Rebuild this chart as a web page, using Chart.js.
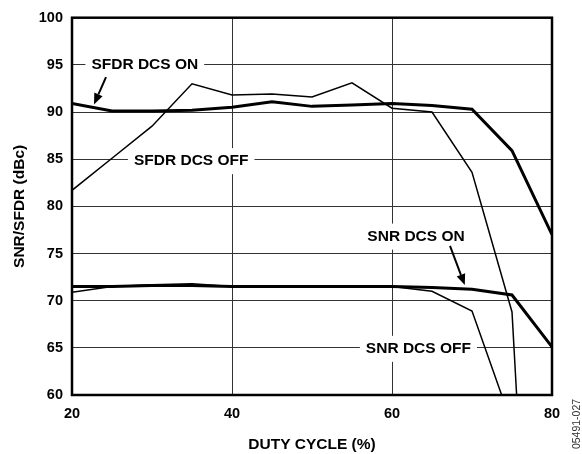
<!DOCTYPE html>
<html>
<head>
<meta charset="utf-8">
<script src="https://cdn.jsdelivr.net/npm/chart.js@4.4.1/dist/chart.umd.min.js"></script>
<style>
  html, body { margin: 0; padding: 0; background: #fff; }
  canvas { display: block; }
</style>
</head>
<body>
<canvas id="dcsChart" width="582" height="454"></canvas>
<script>
// values (duty cycle %, dBc)
var dutyCycle = [20, 25, 30, 35, 40, 45, 50, 55, 60, 65, 70, 75, 80];
var sfdrDcsOn = [90.9, 90.1, 90.1, 90.2, 90.5, 91.1, 90.6, 90.75, 90.9, 90.7, 90.3, 85.9, 77.0];
var sfdrOffDuty = [20, 25, 30, 35, 40, 45, 50, 55, 60, 65, 70, 75, 76];
var sfdrDcsOff = [81.7, 85.1, 88.5, 93.0, 91.8, 91.9, 91.6, 93.1, 90.4, 90.0, 83.6, 68.8, 53.6];
var snrDcsOn = [71.5, 71.5, 71.6, 71.6, 71.5, 71.5, 71.5, 71.5, 71.5, 71.4, 71.2, 70.6, 65.1];
var snrDcsOff = [70.9, 71.5, 71.7, 71.8, 71.5, 71.5, 71.5, 71.5, 71.5, 71.0, 68.9, 56.9, null];
var xTicks = [20, 40, 60, 80];
var yTicks = [60, 65, 70, 75, 80, 85, 90, 95, 100];

var FONT = '"Liberation Sans", Arial, Helvetica, sans-serif';

function pts(xs, ys) {
    return xs.map(function (x, i) { return { x: x, y: ys[i] }; });
}

// text labels with white boxes + the two arrows
var labelsPlugin = {
    id: 'curveLabels',
    beforeDatasetsDraw: function (chart) {
        var ctx = chart.ctx, xs = chart.scales.x, ys = chart.scales.y;
        var labels = [
            { text: 'SFDR DCS ON', x: 29.1, y: 95.1 },
            { text: 'SFDR DCS OFF', x: 34.9, y: 84.9 },
            { text: 'SNR DCS ON', x: 63.0, y: 76.9 },
            { text: 'SNR DCS OFF', x: 63.3, y: 65.0 }
        ];
        ctx.save();
        ctx.font = 'bold 15.5px ' + FONT;
        ctx.textAlign = 'center';
        ctx.textBaseline = 'middle';
        labels.forEach(function (l) {
            var px = xs.getPixelForValue(l.x), py = ys.getPixelForValue(l.y);
            var w = ctx.measureText(l.text).width;
            ctx.fillStyle = '#fff';
            ctx.fillRect(px - w / 2 - 6, py - 12, w + 12, 26);
            ctx.fillStyle = '#000';
            ctx.fillText(l.text, px, py + 1);
        });
        ctx.restore();
    },
    afterDraw: function (chart) {
        var ctx = chart.ctx, xs = chart.scales.x, ys = chart.scales.y, a = chart.chartArea;
        // frame
        ctx.save();
        ctx.strokeStyle = '#000';
        ctx.lineWidth = 2.5;
        ctx.strokeRect(a.left, a.top, a.right - a.left, a.bottom - a.top);

        var arrows = [
            { x0: 24.25, y0: 93.7, x1: 22.75, y1: 90.8 },
            { x0: 67.25, y0: 75.8, x1: 69.1, y1: 71.65 }
        ];
        arrows.forEach(function (ar) {
            var x0 = xs.getPixelForValue(ar.x0), y0 = ys.getPixelForValue(ar.y0);
            var x1 = xs.getPixelForValue(ar.x1), y1 = ys.getPixelForValue(ar.y1);
            var ang = Math.atan2(y1 - y0, x1 - x0), hl = 11, hw = 4.5;
            var bx = x1 - hl * Math.cos(ang), by = y1 - hl * Math.sin(ang);
            ctx.lineWidth = 2;
            ctx.beginPath();
            ctx.moveTo(x0, y0);
            ctx.lineTo(bx, by);
            ctx.stroke();
            ctx.beginPath();
            ctx.moveTo(x1, y1);
            ctx.lineTo(bx + hw * Math.sin(ang), by - hw * Math.cos(ang));
            ctx.lineTo(bx - hw * Math.sin(ang), by + hw * Math.cos(ang));
            ctx.closePath();
            ctx.fillStyle = '#000';
            ctx.fill();
        });

        // figure number on the right edge
        ctx.translate(577, 424);
        ctx.rotate(-Math.PI / 2);
        ctx.font = '10.5px ' + FONT;
        ctx.fillStyle = '#333';
        ctx.textAlign = 'center';
        ctx.textBaseline = 'middle';
        ctx.fillText('05491-027', 0, 0);
        ctx.restore();
    }
};

var thick = { borderColor: '#000', borderWidth: 3, pointRadius: 0, tension: 0, fill: false };
var thin = { borderColor: '#000', borderWidth: 1.5, pointRadius: 0, tension: 0, fill: false };

new Chart(document.getElementById('dcsChart'), {
    type: 'line',
    data: {
        datasets: [
            Object.assign({ label: 'SFDR DCS ON', data: pts(dutyCycle, sfdrDcsOn) }, thick),
            Object.assign({ label: 'SFDR DCS OFF', data: pts(sfdrOffDuty, sfdrDcsOff) }, thin),
            Object.assign({ label: 'SNR DCS ON', data: pts(dutyCycle, snrDcsOn) }, thick),
            Object.assign({ label: 'SNR DCS OFF', data: pts(dutyCycle, snrDcsOff) }, thin)
        ]
    },
    options: {
        responsive: false,
        animation: false,
        devicePixelRatio: 1,
        layout: { padding: { top: 12, right: 30, left: 0, bottom: 0 } },
        plugins: { legend: { display: false }, tooltip: { enabled: false } },
        scales: {
            x: {
                type: 'linear',
                min: 20,
                max: 80,
                afterBuildTicks: function (s) { s.ticks = xTicks.map(function (v) { return { value: v }; }); },
                afterFit: function (s) { s.height = 59; },
                ticks: { color: '#000', padding: 10, font: { family: FONT, size: 14.5, weight: 'bold' } },
                grid: { color: '#333', lineWidth: 1, drawTicks: false },
                border: { display: false },
                title: {
                    display: true, text: 'DUTY CYCLE (%)', color: '#000',
                    font: { family: FONT, size: 15.5, weight: 'bold' }, padding: { top: 3, bottom: 0 }
                }
            },
            y: {
                min: 60,
                max: 100,
                afterBuildTicks: function (s) { s.ticks = yTicks.map(function (v) { return { value: v }; }); },
                afterFit: function (s) { s.width = 72; },
                ticks: { color: '#000', padding: 9, font: { family: FONT, size: 14.5, weight: 'bold' } },
                grid: { color: '#333', lineWidth: 1, drawTicks: false },
                border: { display: false },
                title: {
                    display: true, text: 'SNR/SFDR (dBc)', color: '#000',
                    font: { family: FONT, size: 15.5, weight: 'bold' }, padding: { top: 10, bottom: 0 }
                }
            }
        }
    },
    plugins: [labelsPlugin]
});
</script>
</body>
</html>
